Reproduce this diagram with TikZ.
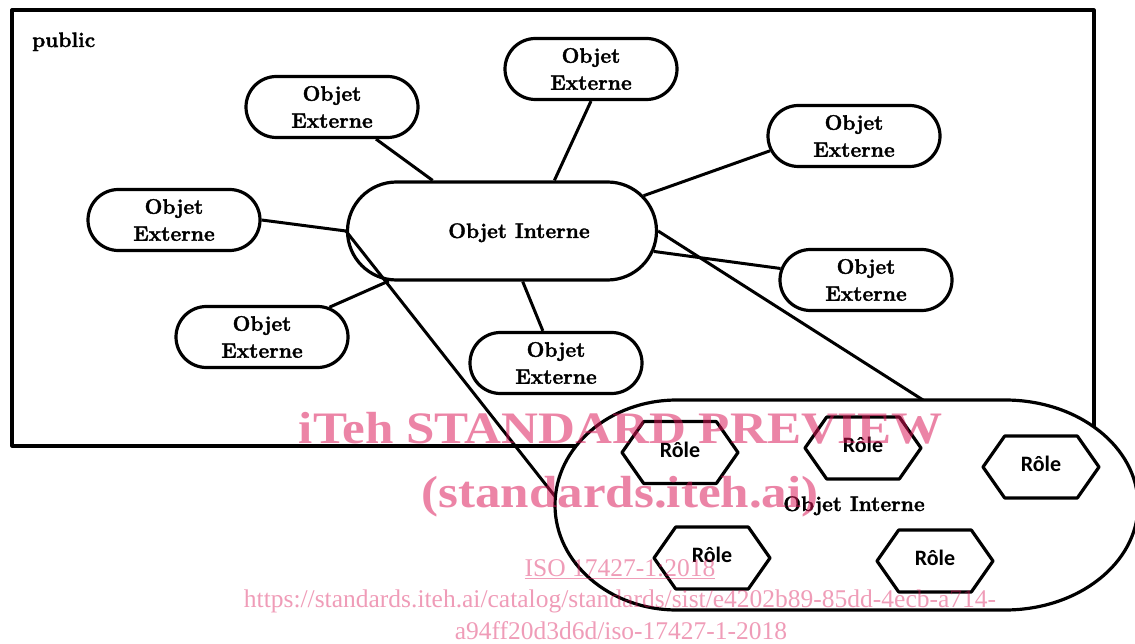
\documentclass[tikz,border=0pt]{standalone}
\usepackage{fontspec}
\usepackage{graphicx}
\usetikzlibrary{shapes.misc,shapes.symbols}
\newfontfamily\objfam{Latin Modern Roman}[BoldFeatures={FakeBold=1.6}]
\newfontfamily\rolefont{Carlito}
\newfontfamily\wmfont{Liberation Serif}
\definecolor{wmpink}{RGB}{218,20,85}

\begin{document}
\begin{tikzpicture}[x=1pt,y=1pt,line join=round,
  thick line/.style={line width=3.2pt},
  conn/.style={line width=3pt},
  objfont/.style={font=\objfam\bfseries\fontsize{21}{27}\selectfont,inner sep=0pt},
  objbox/.style={rounded rectangle,draw,line width=3.2pt,fill=white,
    minimum width=172pt,minimum height=61pt,inner sep=0pt,align=center,
    font=\objfam\bfseries\fontsize{21}{27}\selectfont},
  mainobj/.style={rounded rectangle,draw,line width=3.2pt,fill=white,
    minimum width=309pt,minimum height=98pt,inner sep=0pt},
  role/.style={shape=signal,signal to=east and west,signal pointer angle=110,
    draw,line width=3.2pt,minimum width=116pt,minimum height=62pt,inner sep=0pt,
    font=\rolefont\bfseries\fontsize{22}{26}\selectfont,text height=9pt,text depth=0pt},
  wmbig/.style={text=wmpink,text opacity=0.52,inner sep=0pt,
    font=\wmfont\bfseries\fontsize{45}{50}\selectfont},
  wmsmall/.style={text=wmpink,text opacity=0.42,inner sep=0pt,
    font=\wmfont\fontsize{25.5}{30}\selectfont}]

\useasboundingbox (0,0) rectangle (1135,-644);

% outer "public" frame
\draw[thick line] (12,-10) rectangle (1094,-446);
\node[objfont,anchor=base west] (pub) at (32,-47) {public};

% external objects
\node[objbox] (e1) at (332,-107) {Objet\\Externe};
\node[objbox] (e2) at (591,-69) {Objet\\Externe};
\node[objbox] (e3) at (854,-136) {Objet\\Externe};
\node[objbox] (e4) at (174,-220) {Objet\\Externe};
\node[objbox] (e5) at (866,-280) {Objet\\Externe};
\node[objbox] (e6) at (262,-337) {Objet\\Externe};
\node[objbox] (e7) at (556,-363) {Objet\\Externe};

% internal object
\node[mainobj] (main) at (502,-231) {};
\node[objfont,anchor=base] (mainlbl) at (519,-238) {Objet Interne};

% links between internal and external objects
\draw[conn] (e1) -- (main);
\draw[conn] (e2.south) -- (main.44);
\draw[conn] (e3.190) -- (main.14);
\draw[conn] (e4.east) -- (main.west);
\draw[conn] (e5) -- (main);
\draw[conn] (e6) -- (main);
\draw[conn] (e7) -- (main);

% second internal object holding the roles
\coordinate (bigW) at (555.5,-497);
\coordinate (bigN) at (923,-400);
\draw[conn] (main.west) -- (bigW);
\draw[conn] (main.east) -- (bigN);
\draw[thick line,fill=white] (677,-400) -- (1005,-400)
  arc[start angle=90,end angle=-90,x radius=133,y radius=105]
  -- (677,-610)
  arc[start angle=270,end angle=90,x radius=122,y radius=105] -- cycle;
\node[objfont,anchor=base] (inner2) at (854,-511) {Objet Interne};

% roles
\node[role] (r1) at (680,-452.5) {Rôle};
\node[role] (r2) at (863,-448) {Rôle};
\node[role] (r3) at (1041,-467) {Rôle};
\node[role] (r4) at (712,-558) {Rôle};
\node[role] (r5) at (935,-561) {Rôle};

% watermark
\node[wmbig,anchor=base] (wm1) at (621,-443) {\scalebox{1.135}[1]{iTeh STANDARD PREVIEW}};
\node[wmbig,anchor=base] (wm2) at (620,-507) {\scalebox{1.135}[1]{(standards.iteh.ai)}};
\node[wmsmall,anchor=base] (wm3) at (620,-576) {\underline{ISO 17427-1:2018}};
\node[wmsmall,anchor=base] (wm4) at (620,-607) {https://standards.iteh.ai/catalog/standards/sist/e4202b89-85dd-4ecb-a714-};
\node[wmsmall,anchor=base] (wm5) at (621,-639) {a94ff20d3d6d/iso-17427-1-2018};
\end{tikzpicture}
\end{document}
